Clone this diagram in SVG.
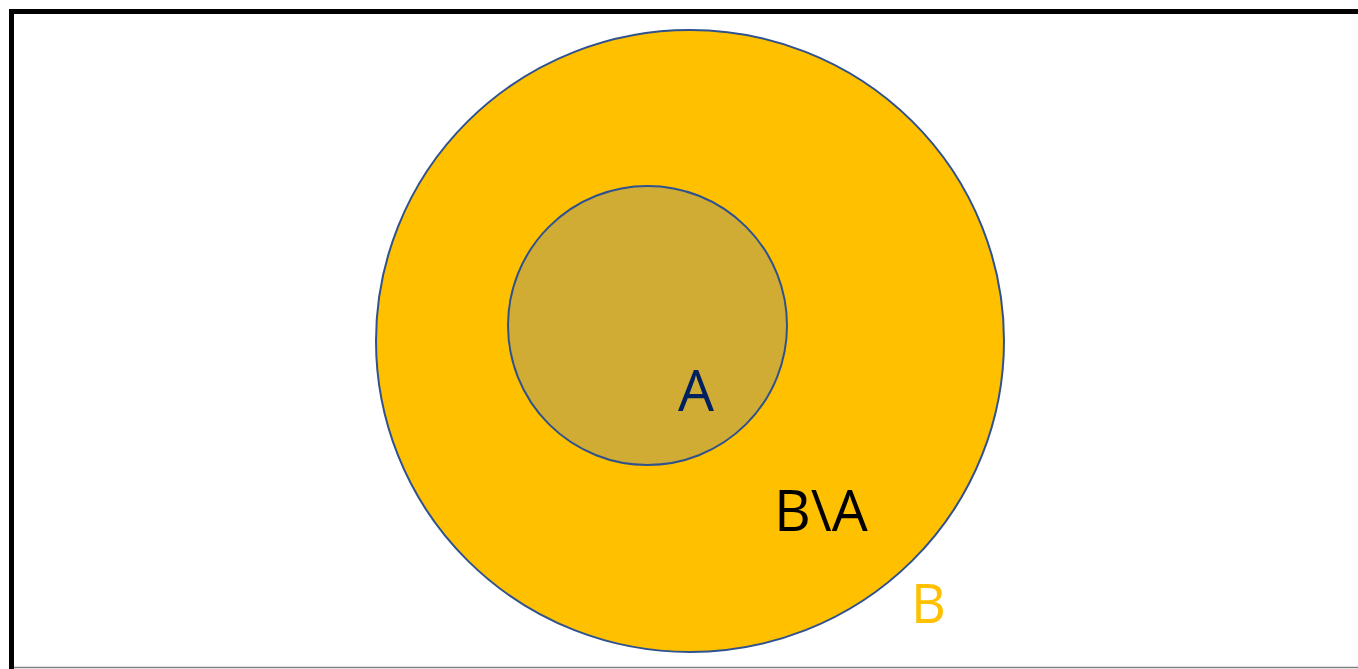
<svg xmlns="http://www.w3.org/2000/svg" width="1358" height="669" viewBox="0 0 1358 669">
<style>
.set{stroke:#2F528F;stroke-width:2}
.lbl{font-family:"Open Sans","Liberation Sans",sans-serif;font-size:57px}
</style>
<rect x="0" y="0" width="1358" height="669" fill="#fff"/>
<g id="frame">
<line x1="11.5" y1="11.5" x2="1358" y2="11.5" stroke="#000" stroke-width="5"/>
<line x1="11.5" y1="9" x2="11.5" y2="669" stroke="#000" stroke-width="5"/>
<line x1="14" y1="667.5" x2="1358" y2="667.5" stroke="#808080" stroke-width="1.5"/>
</g>
<g id="B">
<ellipse class="set" cx="690" cy="341" rx="314" ry="311" fill="#FFC000"/>
<text class="lbl" x="911" y="623" fill="#FFC000" style="font-size:54px">B</text>
</g>
<g id="A">
<circle class="set" cx="647.5" cy="325.5" r="139.5" fill="#D0AC34"/>
<text class="lbl" x="678" y="411" fill="#002060">A</text>
</g>
<g id="BminusA">
<text class="lbl" x="774" y="531" fill="#000">B\A</text>
</g>
</svg>
